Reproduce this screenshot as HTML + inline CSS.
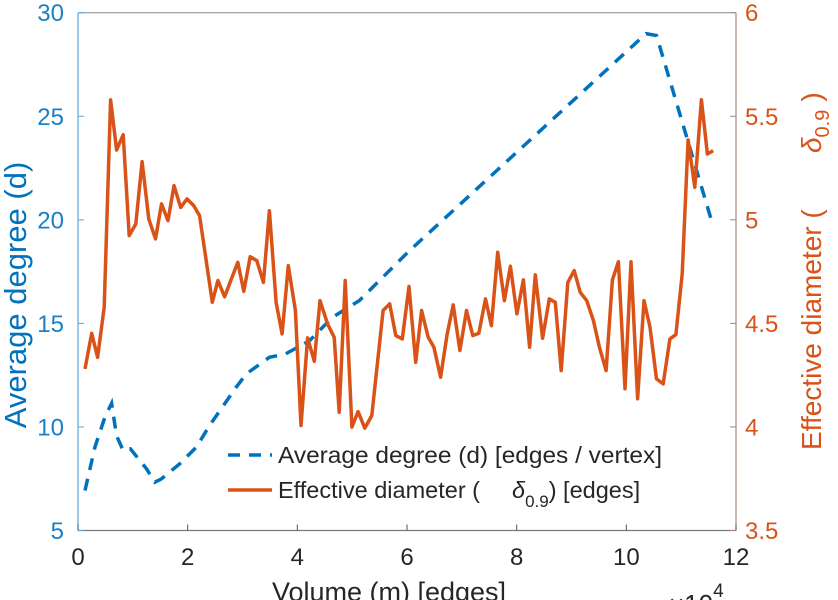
<!DOCTYPE html>
<html><head><meta charset="utf-8"><style>
body{margin:0;background:#fff;}
svg{display:block;font-family:"Liberation Sans",sans-serif;}
</style></head><body>
<svg id="chart" width="838" height="600" viewBox="0 0 838 600">
<g id="axes"></g>
<g id="series"></g>
<g id="legend">
  <line x1="228" y1="455" x2="272" y2="455" stroke="#0072BD" stroke-width="3.5" stroke-dasharray="12,9"/>
  <text x="278" y="463" font-size="23.5" fill="#262626" textLength="384" lengthAdjust="spacingAndGlyphs">Average degree (d) [edges / vertex]</text>
  <line x1="228" y1="490" x2="272" y2="490" stroke="#D95319" stroke-width="3.5"/>
  <text x="278" y="498" font-size="23.5" fill="#262626">Effective diameter (<tspan x="512" font-style="italic">δ</tspan><tspan font-size="17" dy="9">0.9</tspan><tspan dy="-9">) [edges]</tspan></text>
</g>
<text x="389" y="601" font-size="27" fill="#262626" text-anchor="middle">Volume (m) [edges]</text>
<text x="669" y="613" font-size="26" fill="#262626">×10<tspan font-size="19" dy="-16">4</tspan></text>
<text transform="translate(26,295) rotate(-90)" font-size="31" fill="#0072BD" text-anchor="middle">Average degree (d)</text>
<text transform="translate(821,450) rotate(-90)" font-size="28" fill="#D95319">Effective diameter (<tspan x="297" font-style="italic">δ</tspan><tspan font-size="20" dy="8">0.9</tspan><tspan dy="-8" dx="8">)</tspan></text>
</svg>
<script>
const xTicks = [0,2,4,6,8,10,12];
const leftTicks = [5,10,15,20,25,30];
const rightTicks = [3.5,4,4.5,5,5.5,6];
const rightTickLabels = ["3.5","4","4.5","5","5.5","6"];
const degreeX = [0.127,0.309,0.491,0.612,0.703,0.824,0.958,1.249,1.4,1.521,1.855,2.158,2.4,2.885,3.07,3.49,3.79,4.22,4.64,5.13,6.04,10.36,10.55,11.58];
const degreeY = [6.93,9.02,10.47,11.14,9.58,8.86,8.94,7.98,7.33,7.49,8.22,9.02,10.07,11.92,12.56,13.36,13.53,14.16,15.29,16.1,18.5,28.99,28.9,19.72];
const diamX = [0.127,0.249,0.358,0.478,0.595,0.704,0.824,0.933,1.055,1.169,1.291,1.413,1.522,1.642,1.751,1.873,1.987,2.109,2.218,2.449,2.551,2.673,2.915,3.024,3.140,3.260,3.382,3.491,3.613,3.722,3.836,3.964,4.067,4.187,4.309,4.413,4.551,4.673,4.764,4.873,4.995,5.109,5.231,5.358,5.564,5.685,5.795,5.915,6.036,6.158,6.267,6.387,6.491,6.613,6.733,6.842,6.964,7.085,7.200,7.309,7.431,7.540,7.655,7.776,7.885,8.005,8.122,8.236,8.340,8.473,8.595,8.704,8.813,8.933,9.049,9.158,9.278,9.400,9.509,9.631,9.745,9.855,9.976,10.085,10.205,10.322,10.431,10.551,10.673,10.795,10.904,11.018,11.127,11.249,11.369,11.478,11.582];
const diamY = [4.280,4.452,4.336,4.578,5.579,5.337,5.411,4.924,4.980,5.281,5.004,4.908,5.077,4.996,5.165,5.060,5.101,5.069,5.020,4.602,4.707,4.629,4.795,4.655,4.822,4.803,4.698,5.044,4.602,4.449,4.779,4.562,4.007,4.430,4.317,4.610,4.498,4.433,4.071,4.707,3.999,4.074,3.994,4.055,4.562,4.594,4.441,4.425,4.678,4.312,4.562,4.433,4.385,4.240,4.449,4.589,4.369,4.562,4.441,4.452,4.618,4.489,4.843,4.610,4.776,4.546,4.710,4.385,4.734,4.428,4.618,4.602,4.272,4.698,4.755,4.650,4.610,4.514,4.385,4.272,4.710,4.798,4.184,4.798,4.136,4.610,4.481,4.232,4.208,4.425,4.446,4.739,5.386,5.157,5.580,5.318,5.334];

const X0=78, X1=736, Y0=530.5, Y1=12.7;
const sx = v => X0 + (v-0)/(12-0)*(X1-X0);
const syL = v => Y0 - (v-5)/(30-5)*(Y0-Y1);
const syR = v => Y0 - (v-3.5)/(6-3.5)*(Y0-Y1);
const NS='http://www.w3.org/2000/svg';
function mk(tag, attrs, parent){const e=document.createElementNS(NS,tag);for(const k in attrs)e.setAttribute(k,attrs[k]);parent.appendChild(e);return e;}
const axes=document.getElementById('axes'), series=document.getElementById('series');

let e;
e=mk('line',{x1:X0,y1:Y1,x2:X1,y2:Y1,stroke:'#8a8a8a','stroke-width':1},axes);


e=mk('line',{x1:X0,y1:Y0,x2:X1,y2:Y0,stroke:'#7a7a7a','stroke-width':1.2},axes);


e=mk('line',{x1:X0,y1:Y0,x2:X0,y2:Y1,stroke:'#5aa6dc','stroke-width':1.2},axes);


e=mk('line',{x1:X1,y1:Y0,x2:X1,y2:Y1,stroke:'#a8857a','stroke-width':1.2},axes);



xTicks.forEach(t=>{
  const x=sx(t);
  let l=mk('line',{x1:x,y1:Y0,x2:x,y2:Y0-6,stroke:'#555','stroke-width':1},axes);
  
  
  let tx=mk('text',{x:x,y:565,'font-size':24,fill:'#262626','text-anchor':'middle'},axes);
  tx.textContent=t;
  
  
});
leftTicks.forEach(t=>{
  const y=syL(t);
  let l=mk('line',{x1:X0,y1:y,x2:X0+6,y2:y,stroke:'#5aa6dc','stroke-width':1},axes);
  
  
  let tx=mk('text',{x:X0-14,y:y+8.5,'font-size':24,fill:'#1a80c8','text-anchor':'end'},axes);
  tx.textContent=t;
  
  
});
rightTicks.forEach((t,i)=>{
  const y=syR(t);
  let l=mk('line',{x1:X1,y1:y,x2:X1-6,y2:y,stroke:'#a8857a','stroke-width':1},axes);
  
  
  let tx=mk('text',{x:X1+9,y:y+8.5,'font-size':24,fill:'#D95319','text-anchor':'start'},axes);
  tx.textContent=rightTickLabels[i];
  
  
});

const dPts=degreeX.map((x,i)=>sx(x).toFixed(1)+','+syL(degreeY[i]).toFixed(1)).join(' ');
e=mk('polyline',{points:dPts,fill:'none',stroke:'#0072BD','stroke-width':3.5,'stroke-dasharray':'12,9'},series);


const rPts=diamX.map((x,i)=>sx(x).toFixed(1)+','+syR(diamY[i]).toFixed(1)).join(' ');
e=mk('polyline',{points:rPts,fill:'none',stroke:'#D95319','stroke-width':3.5,'stroke-linejoin':'round'},series);


</script>
</body></html>
